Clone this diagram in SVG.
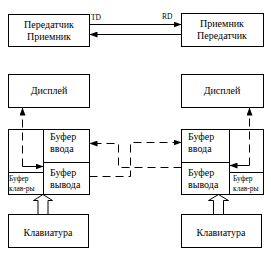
<svg xmlns="http://www.w3.org/2000/svg" width="271" height="255" viewBox="0 0 271 255">
<style>
.box{fill:#fff;stroke:#000;stroke-width:1}
.t{font-family:"Liberation Serif","Times New Roman",serif;font-size:10px;fill:#000}
.s{font-family:"Liberation Serif","Times New Roman",serif;font-size:7.5px;fill:#000}
.c{text-anchor:middle}
.ln{fill:none;stroke:#000;stroke-width:1}
.d{fill:none;stroke:#000;stroke-width:1;stroke-dasharray:8,5}
</style>
<defs>
<marker id="ah" viewBox="0 0 8 6" refX="8" refY="3" markerWidth="8" markerHeight="6" markerUnits="userSpaceOnUse" orient="auto">
<path d="M0,0 L8,3 L0,6 Z" fill="#000"/>
</marker>
</defs>
<rect width="271" height="255" fill="#fff"/>
<g id="tx-left">
<rect class="box" x="8.5" y="14.5" width="81" height="32"/>
<text class="t c" x="49" y="28">Передатчик</text>
<text class="t c" x="49" y="40">Приемник</text>
</g>
<g id="tx-right">
<rect class="box" x="181.5" y="13.5" width="82" height="33"/>
<text class="t c" x="222" y="27">Приемник</text>
<text class="t c" x="222" y="39">Передатчик</text>
</g>
<g id="display-left">
<rect class="box" x="8.5" y="74.5" width="81" height="33"/>
<text class="t c" x="49" y="94">Дисплей</text>
</g>
<g id="display-right">
<rect class="box" x="181.5" y="74.5" width="82" height="33"/>
<text class="t c" x="222" y="94">Дисплей</text>
</g>
<g id="buffers-left">
<rect class="box" x="8.5" y="129.5" width="81" height="65"/>
<line class="ln" x1="43.5" y1="129.5" x2="43.5" y2="194.5"/>
<line class="ln" x1="43.5" y1="162.5" x2="89.5" y2="162.5"/>
<line class="ln" x1="8.5" y1="172.5" x2="43.5" y2="172.5"/>
<text class="t" x="50" y="140">Буфер</text>
<text class="t" x="50" y="152">ввода</text>
<text class="t" x="50" y="176">Буфер</text>
<text class="t" x="50" y="188">вывода</text>
<text class="s" x="9" y="181">Буфер</text>
<text class="s" x="9" y="191">клав-ры</text>
</g>
<g id="buffers-right">
<rect class="box" x="181.5" y="129.5" width="82" height="65"/>
<line class="ln" x1="229.5" y1="129.5" x2="229.5" y2="194.5"/>
<line class="ln" x1="181.5" y1="162.5" x2="229.5" y2="162.5"/>
<line class="ln" x1="229.5" y1="172.5" x2="263.5" y2="172.5"/>
<text class="t" x="188" y="140">Буфер</text>
<text class="t" x="188" y="152">ввода</text>
<text class="t" x="188" y="176">Буфер</text>
<text class="t" x="188" y="188">вывода</text>
<text class="s" x="233" y="181">Буфер</text>
<text class="s" x="233" y="191">клав-ры</text>
</g>
<g id="keyboard-left">
<rect class="box" x="8.5" y="214.5" width="80" height="33"/>
<text class="t c" x="48" y="236">Клавиатура</text>
</g>
<g id="keyboard-right">
<rect class="box" x="181.5" y="214.5" width="80" height="33"/>
<text class="t c" x="221" y="236">Клавиатура</text>
</g>
<g id="connectors">
<line class="ln" x1="89.5" y1="24.5" x2="181.5" y2="24.5" marker-end="url(#ah)"/>
<line class="ln" x1="181.5" y1="34.5" x2="89.5" y2="34.5" marker-end="url(#ah)"/>
<text class="s" x="91" y="20">TD</text>
<text class="s" x="162" y="19">RD</text>
<path class="d" d="M22.5,166.5 L22.5,107.5" marker-end="url(#ah)"/>
<line class="ln" x1="22.5" y1="166.5" x2="43.5" y2="166.5" marker-end="url(#ah)"/>
<path class="d" d="M249.5,165.5 L249.5,107.5" marker-end="url(#ah)"/>
<line class="ln" x1="249.5" y1="165.5" x2="229.5" y2="165.5" marker-end="url(#ah)"/>
<path class="d" d="M181.5,167.5 L118.5,167.5 L118.5,143.5 L89.5,143.5" marker-end="url(#ah)"/>
<path class="d" d="M89.5,176.5 L130.5,176.5 L130.5,142.5 L181.5,142.5" marker-end="url(#ah)"/>
<path class="ln" d="M38,214.5 L38,200.5 L33.5,200.5 L43,194.5 L52.5,200.5 L48,200.5 L48,214.5"/>
<path class="ln" d="M213.5,214.5 L213.5,200.5 L208.5,200.5 L218.5,194.5 L228.5,200.5 L223.5,200.5 L223.5,214.5"/>
</g>
</svg>
